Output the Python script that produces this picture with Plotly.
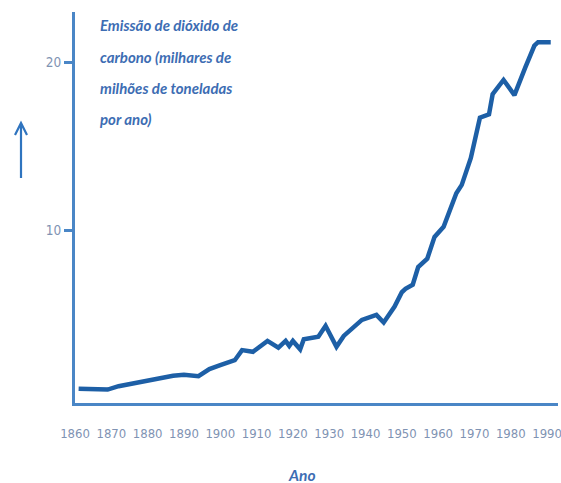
import plotly.graph_objects as go

# ---- data ----
years = [1861, 1865, 1869, 1872, 1877, 1882, 1887, 1890, 1894, 1897, 1900, 1904,
         1906, 1909, 1913, 1916, 1918, 1919, 1920, 1922, 1923, 1927, 1929, 1932,
         1934, 1939, 1943, 1945, 1948, 1950, 1951, 1953, 1954.5, 1957, 1959,
         1961.5, 1965, 1966.5, 1969, 1971.5, 1974, 1975, 1978, 1981, 1984,
         1986.5, 1987.5, 1991]
emissions = [0.55, 0.5, 0.5, 0.7, 0.93, 1.12, 1.32, 1.38, 1.3, 1.72, 1.95, 2.25,
             2.85, 2.75, 3.4, 3.0, 3.4, 3.1, 3.4, 2.9, 3.5, 3.65, 4.3, 3.05,
             3.7, 4.65, 4.95, 4.5, 5.45, 6.3, 6.5, 6.75, 7.8, 8.3, 9.6,
             10.2, 12.2, 12.7, 14.3, 16.7, 16.9, 18.1, 18.95, 18.05, 19.7,
             21.0, 21.2, 21.2]
x_ticks = list(range(1860, 1991, 10))
y_ticks = [10, 20]
title_lines = ["Emissão de dióxido de", "carbono (milhares de",
               "milhões de toneladas", "por ano)"]
x_title = "Ano"

# ---- layout geometry ----
W, H = 561, 483
ML, MR, MT, MB = 75, 3, 12, 80
PW, PH = W - ML - MR, H - MT - MB


def px(xp):
    return (xp - ML) / PW


def py(yp):
    return (H - MB - yp) / PH


LINE = "#1d5fa6"
AXIS = "#4a86c6"
TICKTXT = "#7f93b3"
TXT = "#3d6db3"
TICKFONT = "DejaVu Sans Condensed, sans-serif"
TITLEFONT = "Lato, sans-serif"

fig = go.Figure()
fig.add_trace(go.Scatter(x=years, y=emissions, mode="lines",
                         line=dict(color=LINE, width=4.5), hoverinfo="skip"))

fig.update_layout(
    width=W, height=H,
    margin=dict(l=ML, r=MR, t=MT, b=MB, autoexpand=False),
    paper_bgcolor="white", plot_bgcolor="white",
    showlegend=False,
    font=dict(family=TICKFONT, size=13, color=TICKTXT),
)
fig.update_xaxes(range=[1860, 1993], tickvals=x_ticks, showgrid=False,
                 zeroline=False, showline=True, linecolor=AXIS, linewidth=3,
                 ticks="outside", ticklen=16, tickcolor="rgba(0,0,0,0)",
                 ticklabeloverflow="allow",
                 tickfont=dict(family=TICKFONT, size=13, color=TICKTXT))
fig.update_yaxes(range=[-0.3, 23], tickvals=y_ticks, showgrid=False,
                 zeroline=False, showline=True, linecolor=AXIS, linewidth=3,
                 ticks="outside", ticklen=8, tickwidth=3, tickcolor=AXIS,
                 tickfont=dict(family=TICKFONT, size=13.5, color=TICKTXT))

for line, yc in zip(title_lines, [25, 57, 88, 119]):
    fig.add_annotation(x=px(98), y=py(yc), xref="paper", yref="paper",
                       xanchor="left", yanchor="middle", showarrow=False,
                       text="<b><i>%s</i></b>" % line,
                       font=dict(family=TITLEFONT, size=15, color=TXT))

fig.add_annotation(x=px(302), y=py(475), xref="paper", yref="paper",
                   xanchor="center", yanchor="middle", showarrow=False,
                   text="<b><i>%s</i></b>" % x_title,
                   font=dict(family=TITLEFONT, size=15.5, color=TXT))

# vertical arrow at the left
ax = px(21)
path = "M %f,%f L %f,%f M %f,%f L %f,%f L %f,%f" % (
    ax, py(178), ax, py(124),
    px(15), py(135), ax, py(123), px(27), py(135))
fig.add_shape(type="path", path=path, xref="paper", yref="paper",
              line=dict(color="#2f74bf", width=2.2))

fig.write_html("out.html",
               config={"displayModeBar": False},
               post_script="document.body.style.margin='0px';"
                           "document.body.style.overflow='hidden';")
